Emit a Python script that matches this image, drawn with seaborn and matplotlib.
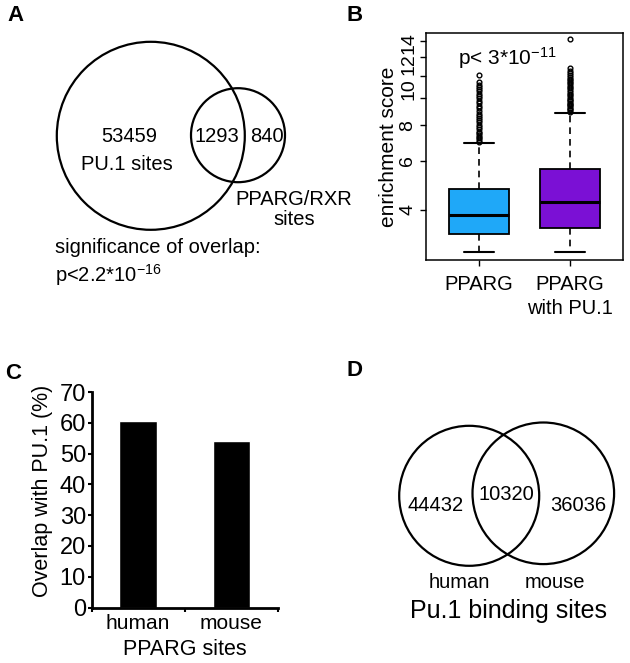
import numpy as np
import pandas as pd
import matplotlib
matplotlib.use("Agg")
import matplotlib.pyplot as plt
import matplotlib.transforms as mtransforms
from matplotlib.patches import Circle
from matplotlib.ticker import FixedLocator, NullLocator
import seaborn as sns

# --- panel A: PU.1 vs PPARG/RXR site overlap
venn_a_counts = [53459, 1293, 840]
venn_a_names = ["PU.1 sites", "PPARG/RXR\nsites"]

# --- panel B: enrichment score per group (box levels with counts + outliers)
box_groups = ["PPARG", "PPARG\nwith PU.1"]
box_colors = ["#1FA8F8", "#7B10D5"]
pparg_levels = [2.84, 3.05, 3.28, 3.55, 3.84, 4.30, 4.75, 6.93]
pparg_counts = [1, 29, 1, 29, 1, 29, 1, 1]
pparg_outliers = [7.0, 7.1, 7.2, 7.3, 7.4, 7.5, 7.6, 7.75, 7.9, 8.05,
                  8.2, 8.35, 8.5, 8.65, 8.8, 9.0, 9.2, 9.4, 9.6, 9.8,
                  10.0, 10.2, 10.4, 10.6, 10.8, 11.0, 11.2, 11.4, 12.1]
pu1_levels = [2.84, 3.10, 3.44, 3.80, 4.27, 4.90, 5.61, 8.85]
pu1_counts = [1, 29, 1, 29, 1, 29, 1, 1]
pu1_outliers = [8.95, 9.05, 9.15, 9.25, 9.35, 9.45, 9.55, 9.65, 9.75, 9.85,
                9.95, 10.1, 10.25, 10.4, 10.55, 10.7, 10.85, 11.0, 11.15, 11.3,
                11.45, 11.6, 11.75, 11.9, 12.1, 12.3, 12.5, 12.8, 16.3]
score_ticks = [4, 6, 8, 10, 12, 14, 16]

# --- panel C: overlap of PPARG sites with PU.1
species = ["human", "mouse"]
overlap_pct = [60.5, 54.0]

# --- panel D: PU.1 binding sites human vs mouse
venn_d_counts = [44432, 10320, 36036]
venn_d_names = ["human", "mouse"]

sns.set_style("ticks")
plt.rcParams["font.family"] = ["Liberation Sans", "DejaVu Sans"]
plt.rcParams["mathtext.fontset"] = "custom"
plt.rcParams["mathtext.rm"] = "Liberation Sans"
plt.rcParams["mathtext.it"] = "Liberation Sans:italic"
plt.rcParams["mathtext.bf"] = "Liberation Sans:bold"
for key in ["text.color", "axes.labelcolor", "xtick.color", "ytick.color", "axes.edgecolor"]:
    plt.rcParams[key] = "black"

fig = plt.figure(figsize=(6.3, 6.63), dpi=100)

# overlay in pixel coords for the venn panels and letters
ax0 = fig.add_axes([0, 0, 1, 1])
ax0.set_xlim(0, 630)
ax0.set_ylim(663, 0)
ax0.axis("off")

fs = 14.5
for letter, (x, y) in zip("ABCD", [(15, 15.5), (355, 15.5), (13, 373.5), (354, 371)]):
    ax0.text(x, y, letter, fontsize=16, fontweight="bold", ha="center", va="center")

# A
ax0.add_patch(Circle((150.8, 135.8), 94, fill=False, lw=1.6, ec="black"))
ax0.add_patch(Circle((238, 135.2), 47, fill=False, lw=1.6, ec="black"))
ax0.text(129, 141.7, str(venn_a_counts[0]), fontsize=fs, ha="center", va="baseline")
ax0.text(127, 170, venn_a_names[0], fontsize=fs, ha="center", va="baseline")
ax0.text(217, 141.7, str(venn_a_counts[1]), fontsize=fs, ha="center", va="baseline")
ax0.text(266.5, 141.7, str(venn_a_counts[2]), fontsize=fs, ha="center", va="baseline")
for i, line in enumerate(venn_a_names[1].split("\n")):
    ax0.text(294, 205 + 20 * i, line, fontsize=fs, ha="center", va="baseline")
ax0.text(55, 253, "significance of overlap:", fontsize=fs, ha="left", va="baseline")
ax0.text(55, 282, "p<2.2*10$^{-16}$", fontsize=fs, ha="left", va="baseline")

# D
ax0.add_patch(Circle((469.2, 495.8), 70, fill=False, lw=1.6, ec="black"))
ax0.add_patch(Circle((543.3, 493.3), 70.8, fill=False, lw=1.6, ec="black"))
ax0.text(436, 510.7, str(venn_d_counts[0]), fontsize=fs, ha="center", va="baseline")
ax0.text(506, 500, str(venn_d_counts[1]), fontsize=fs, ha="center", va="baseline")
ax0.text(578.5, 510.7, str(venn_d_counts[2]), fontsize=fs, ha="center", va="baseline")
ax0.text(459, 588, venn_d_names[0], fontsize=fs, ha="center", va="baseline")
ax0.text(555, 588, venn_d_names[1], fontsize=fs, ha="center", va="baseline")
ax0.text(509, 617.7, "Pu.1 binding sites", fontsize=18, ha="center", va="baseline")

# B: boxplot
scores = np.concatenate([np.repeat(pparg_levels, pparg_counts), pparg_outliers,
                         np.repeat(pu1_levels, pu1_counts), pu1_outliers])
groups = ([box_groups[0]] * (sum(pparg_counts) + len(pparg_outliers))
          + [box_groups[1]] * (sum(pu1_counts) + len(pu1_outliers)))
df = pd.DataFrame({"group": groups, "score": scores})

axB = fig.add_axes([426 / 630, (663 - 260) / 663, 197 / 630, 227 / 663])
sns.boxplot(data=df, x="group", y="score", hue="group", order=box_groups,
            hue_order=box_groups, palette=box_colors, saturation=1, legend=False,
            width=0.66, linecolor="black", linewidth=1.3, ax=axB,
            whiskerprops=dict(linestyle=(0, (4, 3)), linewidth=1.2),
            capprops=dict(linewidth=1.5),
            medianprops=dict(linewidth=2.2),
            flierprops=dict(marker="o", markersize=3.4, markeredgewidth=1.0,
                            markerfacecolor="none", markeredgecolor="black"))
axB.set_yscale("log")
axB.set_ylim(2.65, 17.1)
axB.set_xlim(-0.58, 1.58)
axB.yaxis.set_major_locator(FixedLocator(score_ticks))
axB.yaxis.set_minor_locator(NullLocator())
axB.set_yticklabels(["4", "6", "8", "", "", "", ""])
axB.tick_params(axis="y", length=4, width=1, pad=3, labelsize=14, labelrotation=90)
axB.tick_params(axis="x", length=4, width=1, pad=7, labelsize=14.5)
for lab in axB.get_yticklabels():
    lab.set_va("center")
for lab in axB.get_xticklabels():
    lab.set_linespacing(1.3)
# crowded labels at the top of the log axis sit a little above their ticks
for val, dy in zip([10, 12, 14], [6.8, 8.4, 10.6]):
    tr = mtransforms.offset_copy(axB.get_yaxis_transform(), fig=fig, x=-6, y=dy, units="points")
    axB.text(0, val, str(val), transform=tr, rotation=90, ha="right", va="center", fontsize=14)
for s in axB.spines.values():
    s.set_linewidth(1.1)
    s.set_visible(True)
axB.set_xlabel("")
axB.set_ylabel("enrichment score", fontsize=15, labelpad=1)
axB.text(0.411, (260 - 65) / 227, "p< 3*10$^{-11}$", transform=axB.transAxes,
         fontsize=15, ha="center", va="baseline")

# C: bars
axC = fig.add_axes([91.5 / 630, (663 - 607.5) / 663, 186.5 / 630, 215.5 / 663])
sns.barplot(x=species, y=overlap_pct, color="black", saturation=1, width=0.4, ax=axC)
axC.set_ylim(0, 70)
axC.set_xlim(-0.5, 1.5)
axC.set_yticks(range(0, 71, 10))
axC.set_xticks([-0.5, 0.5, 1.5], minor=True)
axC.tick_params(axis="y", length=3, width=1.5, pad=1, labelsize=17)
axC.tick_params(axis="x", which="major", length=0, pad=5, labelsize=15)
axC.tick_params(axis="x", which="minor", length=3, width=1.5)
sns.despine(ax=axC)
for s in ["left", "bottom"]:
    axC.spines[s].set_linewidth(2)
axC.set_xlabel("PPARG sites", fontsize=15.5, labelpad=4)
axC.set_ylabel("Overlap with PU.1 (%)", fontsize=15.5, labelpad=5)
axC.yaxis.label.set_y(0.543)

fig.savefig("out.png", dpi=100)
